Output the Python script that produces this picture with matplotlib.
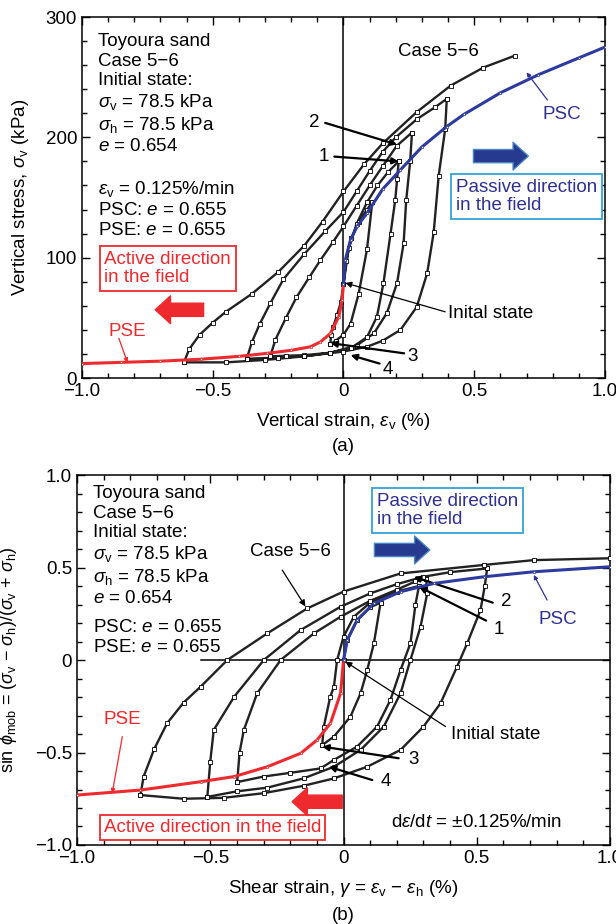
import matplotlib
matplotlib.use("Agg")
import matplotlib.pyplot as plt
import numpy as np

plt.rcParams['font.family'] = ['Liberation Sans', 'DejaVu Sans']
plt.rcParams['mathtext.fontset'] = 'custom'
plt.rcParams['mathtext.rm'] = 'Liberation Sans'
plt.rcParams['mathtext.it'] = 'Liberation Sans:italic'
plt.rcParams['font.size'] = 13

RED = '#ee2a2e'
BLUE = '#2d3a9e'
BOXBLUE = '#35a0d8'
TXTBLUE = '#2e3192'
FS = 13.5

# ---- (a) vertical strain vs vertical stress ----
psc_ev = [0, 0.007, 0.027, 0.052, 0.09, 0.15, 0.218, 0.3, 0.395, 0.46, 0.6, 0.745, 0.9, 1.0]
psc_sv = [78, 98, 115, 126, 137, 157, 173, 192, 209, 219, 237, 252, 266, 275]
pse_ev = [0, -0.005, -0.018, -0.05, -0.088, -0.126, -0.2, -0.292, -0.4, -0.546, -0.7, -0.85, -1.0]
pse_sv = [78, 65, 51, 37, 30, 26, 23, 20.5, 18, 15.6, 14, 13, 12]

# Case 5-6, one branch per loading stage
a_ev = [
    [0, 0.01, 0.03, 0.06, 0.09, 0.11],
    [0.11, 0.09, 0.058, 0.027, 0.0, -0.03, -0.05],
    [-0.05, -0.048, -0.04, -0.025, -0.01, 0.0, 0.02, 0.05, 0.09, 0.13, 0.17, 0.211],
    [0.211, 0.205, 0.198, 0.18, 0.153, 0.128, 0.09, 0.03, -0.05, -0.15, -0.22, -0.28],
    [-0.28, -0.26, -0.22, -0.18, -0.13, -0.088, -0.04, 0.0, 0.05, 0.1, 0.15, 0.204, 0.262],
    [0.262, 0.255, 0.24, 0.23, 0.205, 0.166, 0.116, 0.05, -0.05, -0.15, -0.25, -0.37],
    [-0.37, -0.35, -0.32, -0.28, -0.23, -0.15, -0.07, 0.0, 0.05, 0.1, 0.15, 0.2, 0.28, 0.35, 0.395],
    [0.395, 0.389, 0.364, 0.345, 0.32, 0.28, 0.218, 0.15, 0.09, 0.0, -0.15, -0.3, -0.45, -0.61],
    [-0.61, -0.59, -0.55, -0.5, -0.45, -0.35, -0.25, -0.15, -0.08, 0.0, 0.08, 0.15, 0.28, 0.41, 0.535, 0.657],
]
a_sv = [
    [78, 97, 116, 130, 140, 146],
    [146, 107, 70, 45, 36, 31, 28],
    [28, 36, 42, 52, 63, 78, 108, 128, 146, 160, 171, 180],
    [180, 165, 148, 120, 79, 51, 34, 25, 21, 19, 18.5, 18],
    [18, 32, 50, 67, 84, 98, 113, 126, 143, 160, 176, 193, 204],
    [204, 180, 148, 112, 79, 54, 37, 27, 21, 18, 17, 16],
    [16, 30, 45, 62, 82, 103, 122, 138, 155, 172, 188, 200, 215, 225, 232],
    [232, 207, 168, 121, 87, 59, 40, 31, 26, 22, 18, 15, 13, 13],
    [13, 24, 36, 46, 55, 70, 88, 110, 130, 155, 178, 195, 221, 243, 258, 268],
]

# ---- (b) shear strain vs mobilised friction ----
psc_g = [0, 0.014, 0.051, 0.114, 0.214, 0.339, 0.527, 0.714, 1.0]
psc_s = [0, 0.108, 0.216, 0.306, 0.369, 0.414, 0.45, 0.477, 0.504]
pse_g = [0, -0.011, -0.049, -0.099, -0.16, -0.286, -0.41, -0.536, -0.762, -1.0]
pse_s = [0, -0.18, -0.342, -0.432, -0.504, -0.577, -0.63, -0.658, -0.703, -0.73]

b_g = [
    [0, 0.014, 0.051, 0.1, 0.139],
    [0.139, 0.114, 0.089, 0.064, 0.026, -0.036, -0.08],
    [-0.08, -0.074, -0.05, -0.036, -0.024, 0.0, 0.039, 0.1, 0.2, 0.283],
    [0.283, 0.27, 0.251, 0.214, 0.176, 0.126, 0.051, -0.036, -0.086, -0.2, -0.3, -0.399],
    [-0.399, -0.39, -0.374, -0.324, -0.236, -0.111, -0.011, 0.1, 0.2, 0.27, 0.31],
    [0.31, 0.314, 0.289, 0.251, 0.214, 0.151, 0.064, -0.036, -0.15, -0.286, -0.4, -0.511],
    [-0.511, -0.5, -0.487, -0.41, -0.299, -0.161, -0.011, 0.1, 0.2, 0.3, 0.4, 0.539],
    [0.539, 0.53, 0.514, 0.464, 0.426, 0.364, 0.30, 0.214, 0.089, -0.036, -0.15, -0.3, -0.45, -0.6, -0.762],
    [-0.762, -0.75, -0.71, -0.662, -0.6, -0.536, -0.436, -0.286, -0.136, 0.0, 0.214, 0.527, 0.714, 1.0],
]
b_s = [
    [0, 0.108, 0.216, 0.285, 0.31],
    [0.31, 0.09, -0.054, -0.18, -0.306, -0.414, -0.46],
    [-0.46, -0.36, -0.2, -0.144, 0.0, 0.126, 0.234, 0.31, 0.37, 0.40],
    [0.40, 0.3, 0.09, -0.054, -0.216, -0.36, -0.468, -0.54, -0.586, -0.61, -0.63, -0.66],
    [-0.66, -0.5, -0.378, -0.18, 0.0, 0.144, 0.234, 0.32, 0.38, 0.425, 0.44],
    [0.44, 0.36, 0.18, 0.0, -0.18, -0.36, -0.486, -0.577, -0.64, -0.69, -0.71, -0.74],
    [-0.74, -0.55, -0.378, -0.198, 0.0, 0.162, 0.288, 0.36, 0.41, 0.45, 0.475, 0.495],
    [0.495, 0.4, 0.27, 0.09, -0.036, -0.234, -0.36, -0.486, -0.577, -0.64, -0.68, -0.72, -0.745, -0.75, -0.73],
    [-0.73, -0.63, -0.48, -0.342, -0.23, -0.144, 0.0, 0.144, 0.279, 0.37, 0.468, 0.514, 0.54, 0.55],
]


def style_axes(ax):
    ax.tick_params(which='both', direction='in', top=True, right=True, width=1, labelsize=FS)
    ax.tick_params(which='major', length=6)
    ax.tick_params(which='minor', length=3.5)
    for sp in ax.spines.values():
        sp.set_linewidth(1.1)


def case_line(ax, xs, ys):
    x = np.concatenate([np.array(b) for b in xs])
    y = np.concatenate([np.array(b) for b in ys])
    ax.plot(x, y, '-', color='#222222', lw=1.7, marker='s', ms=2.8, mfc='white', mec='k', mew=0.6, zorder=3)


def fat_arrow(ax, x0, x1, y, face, edge):
    ax.annotate('', xy=(x1, y), xytext=(x0, y),
                arrowprops=dict(arrowstyle='simple,head_width=2.0,head_length=1.1,tail_width=0.95',
                                mutation_scale=10, fc=face, ec=edge, lw=1, shrinkA=0, shrinkB=0))


def pointer(ax, xy, xytext, lw=1.6):
    ax.annotate('', xy=xy, xytext=xytext,
                arrowprops=dict(arrowstyle='-|>', color='k', lw=lw, mutation_scale=9,
                                shrinkA=0, shrinkB=0))


fig = plt.figure(figsize=(6.16, 9.24), dpi=100)

# ================= (a) =================
ax = fig.add_axes([0.1331, 0.5909, 0.849, 0.3907])
ax.axvline(0, color='k', lw=1.1, zorder=1)
case_line(ax, a_ev, a_sv)
ax.plot(pse_ev, pse_sv, '-', color=RED, lw=2.2, marker='s', ms=2, mfc='white', mec=RED, mew=0.5, zorder=4)
ax.plot(psc_ev, psc_sv, '-', color=BLUE, lw=2.2, marker='s', ms=2, mfc='white', mec=BLUE, mew=0.5, zorder=4)

ax.set_xlim(-1.0, 1.0)
ax.set_ylim(0, 300)
ax.set_xticks([-1.0, -0.5, 0, 0.5, 1.0])
ax.set_xticklabels(['\u22121.0', '\u22120.5', '0', '0.5', '1.0'])
ax.set_xticks(np.arange(-1.0, 1.01, 0.1), minor=True)
ax.set_yticks([0, 100, 200, 300])
ax.set_yticks(np.arange(0, 301, 20), minor=True)
style_axes(ax)
ax.set_xlabel(r'Vertical strain, $\varepsilon_{\rm v}$ (%)', fontsize=FS, labelpad=8)
ax.set_ylabel(r'Vertical stress, $\sigma_{\rm v}$ (kPa)', fontsize=FS)
ax.yaxis.set_label_coords(-0.098, 0.5)
ax.text(0.5, -0.19, '(a)', transform=ax.transAxes, ha='center', va='center', fontsize=FS)

ax.text(-0.94, 236, 'Toyoura sand\nCase 5\u22126\nInitial state:\n'
        r'$\sigma_{\rm v}$ = 78.5 kPa' '\n' r'$\sigma_{\rm h}$ = 78.5 kPa' '\n' r'$e$ = 0.654',
        ha='left', va='center', fontsize=FS, linespacing=1.2)
ax.text(-0.94, 140.5, r'$\varepsilon_{\rm v}$ = 0.125%/min' '\n' r'PSC: $e$ = 0.655' '\n'
        r'PSE: $e$ = 0.655', ha='left', va='center', fontsize=FS, linespacing=1.2)

ax.text(-0.915, 91, 'Active direction\nin the field', color=RED, ha='left', va='center', fontsize=FS,
        linespacing=1.1, bbox=dict(boxstyle='square,pad=0.25', fc='white', ec=RED, lw=1.3))
fat_arrow(ax, -0.535, -0.72, 56.7, RED, RED)
ax.text(0.43, 151, 'Passive direction\nin the field', color=TXTBLUE, ha='left', va='center', fontsize=FS,
        linespacing=1.1, bbox=dict(boxstyle='square,pad=0.25', fc='white', ec=BOXBLUE, lw=1.3))
fat_arrow(ax, 0.497, 0.707, 184.4, '#263a8f', '#4a86c0')

ax.text(0.21, 271, 'Case 5\u22126', ha='left', va='center', fontsize=FS)
ax.text(0.763, 219, 'PSC', color=TXTBLUE, ha='left', va='center', fontsize=FS)
ax.annotate('', xy=(0.7, 254), xytext=(0.78, 231),
            arrowprops=dict(arrowstyle='-|>', color=TXTBLUE, lw=0.9, mutation_scale=6, shrinkA=0, shrinkB=0))
ax.text(-0.9, 39, 'PSE', color=RED, ha='left', va='center', fontsize=FS)
ax.annotate('', xy=(-0.826, 12.8), xytext=(-0.859, 33),
            arrowprops=dict(arrowstyle='-|>', color=RED, lw=0.9, mutation_scale=6, shrinkA=0, shrinkB=0))

ax.text(-0.09, 212, '2', ha='right', va='center', fontsize=FS)
pointer(ax, (0.205, 194), (-0.07, 212))
ax.text(-0.055, 184, '1', ha='right', va='center', fontsize=FS)
pointer(ax, (0.211, 180), (-0.035, 184))
ax.text(0.40, 54, 'Inital state', ha='left', va='center', fontsize=FS)
pointer(ax, (0.007, 79), (0.389, 55), lw=0.9)
ax.text(0.245, 18, '3', ha='left', va='center', fontsize=FS)
pointer(ax, (-0.05, 29), (0.232, 20.5))
ax.text(0.15, 7, '4', ha='left', va='center', fontsize=FS)
pointer(ax, (0.027, 19), (0.138, 12))

# ================= (b) =================
bx = fig.add_axes([0.125, 0.0855, 0.8653, 0.4004])
bx.axvline(0, color='k', lw=1.1, zorder=1)
bx.plot([-0.533, 1.0], [0, 0], color='k', lw=1.1, zorder=1)
case_line(bx, b_g, b_s)
bx.plot(pse_g, pse_s, '-', color=RED, lw=2.2, marker='s', ms=2, mfc='white', mec=RED, mew=0.5, zorder=4)
bx.plot(psc_g, psc_s, '-', color=BLUE, lw=2.2, marker='s', ms=2, mfc='white', mec=BLUE, mew=0.5, zorder=4)

bx.set_xlim(-1.0, 1.0)
bx.set_ylim(-1.0, 1.0)
bx.set_xticks([-1.0, -0.5, 0, 0.5, 1.0])
bx.set_xticklabels(['\u22121.0', '\u22120.5', '0', '0.5', '1.0'])
bx.set_xticks(np.arange(-1.0, 1.01, 0.1), minor=True)
bx.set_yticks([-1.0, -0.5, 0, 0.5, 1.0])
bx.set_yticklabels(['\u22121.0', '\u22120.5', '0', '0.5', '1.0'])
bx.set_yticks(np.arange(-1.0, 1.01, 0.1), minor=True)
style_axes(bx)
bx.set_xlabel(r'Shear strain, $\gamma$ = $\varepsilon_{\rm v}$ $-$ $\varepsilon_{\rm h}$ (%)', fontsize=FS, labelpad=8)
bx.set_ylabel(r'sin $\phi_{\rm mob}$ = ($\sigma_{\rm v}$ $-$ $\sigma_{\rm h}$)/($\sigma_{\rm v}$ + $\sigma_{\rm h}$)',
              fontsize=13)
bx.yaxis.set_label_coords(-0.108, 0.5)
bx.text(0.5, -0.19, '(b)', transform=bx.transAxes, ha='center', va='center', fontsize=FS)

bx.text(-0.94, 0.617, 'Toyoura sand\nCase 5\u22126\nInitial state:\n'
        r'$\sigma_{\rm v}$ = 78.5 kPa' '\n' r'$\sigma_{\rm h}$ = 78.5 kPa' '\n' r'$e$ = 0.654',
        ha='left', va='center', fontsize=FS, linespacing=1.2)
bx.text(-0.94, 0.122, r'PSC: $e$ = 0.655' '\n' r'PSE: $e$ = 0.655',
        ha='left', va='center', fontsize=FS, linespacing=1.2)

bx.text(-0.9, -0.905, 'Active direction in the field', color=RED, ha='left', va='center', fontsize=FS,
        bbox=dict(boxstyle='square,pad=0.2', fc='white', ec=RED, lw=1.3))
fat_arrow(bx, -0.005, -0.193, -0.766, RED, RED)
bx.text(0.125, 0.81, 'Passive direction\nin the field', color=TXTBLUE, ha='left', va='center', fontsize=FS,
        linespacing=1.1, bbox=dict(boxstyle='square,pad=0.25', fc='white', ec=BOXBLUE, lw=1.3))
fat_arrow(bx, 0.116, 0.324, 0.595, '#263a8f', '#4a86c0')

bx.text(-0.35, 0.585, 'Case 5\u22126', ha='left', va='center', fontsize=FS)
pointer(bx, (-0.143, 0.29), (-0.23, 0.486), lw=0.9)
bx.text(0.733, 0.22, 'PSC', color=TXTBLUE, ha='left', va='center', fontsize=FS)
bx.annotate('', xy=(0.714, 0.46), xytext=(0.764, 0.324),
            arrowprops=dict(arrowstyle='-|>', color=TXTBLUE, lw=0.9, mutation_scale=6, shrinkA=0, shrinkB=0))
bx.text(-0.9, -0.324, 'PSE', color=RED, ha='left', va='center', fontsize=FS)
bx.annotate('', xy=(-0.868, -0.72), xytext=(-0.83, -0.414),
            arrowprops=dict(arrowstyle='-|>', color=RED, lw=0.9, mutation_scale=6, shrinkA=0, shrinkB=0))

bx.text(0.59, 0.315, '2', ha='left', va='center', fontsize=FS)
pointer(bx, (0.264, 0.45), (0.56, 0.31))
bx.text(0.565, 0.166, '1', ha='left', va='center', fontsize=FS)
pointer(bx, (0.283, 0.396), (0.535, 0.213))
bx.text(0.405, -0.4, 'Initial state', ha='left', va='center', fontsize=FS)
pointer(bx, (0.007, -0.009), (0.383, -0.36), lw=0.9)
bx.text(0.245, -0.54, '3', ha='left', va='center', fontsize=FS)
pointer(bx, (-0.08, -0.468), (0.207, -0.531))
bx.text(0.141, -0.658, '4', ha='left', va='center', fontsize=FS)
pointer(bx, (-0.055, -0.577), (0.108, -0.649))
bx.text(0.18, -0.88, r'd$\varepsilon$/d$t$ = $\pm$0.125%/min', ha='left', va='center', fontsize=FS)

fig.savefig('out.png', dpi=100)
